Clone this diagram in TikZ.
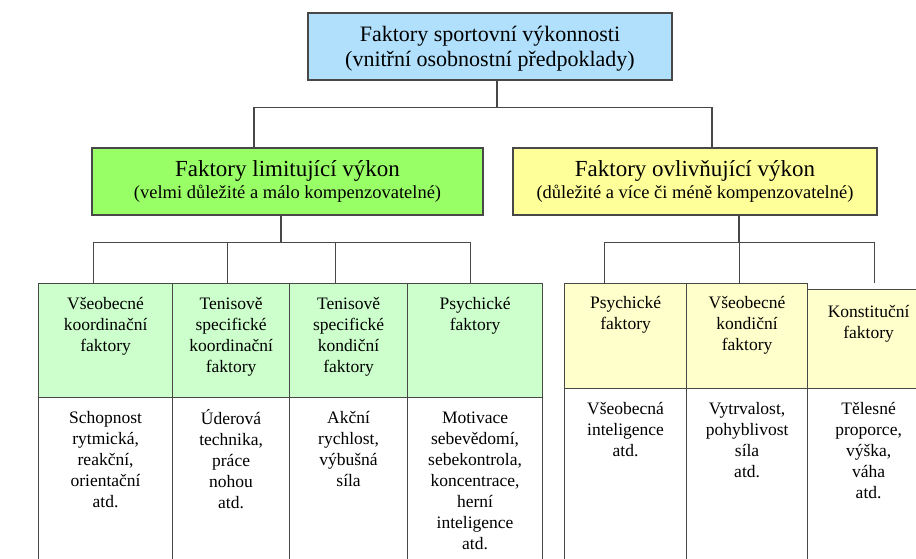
\documentclass[tikz,border=0pt]{standalone}
\usepackage{fontspec}
\setmainfont{Liberation Serif}
\usepackage{xcolor}
\usetikzlibrary{positioning}

\definecolor{topblue}{RGB}{176,224,252}
\definecolor{limgreen}{RGB}{153,255,102}
\definecolor{infyellow}{RGB}{255,255,153}
\definecolor{cellgreen}{RGB}{204,255,204}
\definecolor{cellyellow}{RGB}{255,255,204}
\definecolor{linegray}{RGB}{72,72,72}

\begin{document}
\begin{tikzpicture}[x=1pt, y=-1pt,
titlebox/.style={draw=linegray, line width=1.3pt, align=center, inner sep=0pt},
cellbox/.style={draw=linegray, line width=1.2pt, anchor=north west, inner sep=0pt},
celltext/.style={align=center, inner sep=0pt, font=\fontsize{17.5}{21}\selectfont},
conn/.style={draw=linegray, line width=1.2pt},
]
\useasboundingbox (0,0) rectangle (916,559);
\clip (0,0) rectangle (916,559);

% main boxes
\node[titlebox, fill=topblue, minimum width=364, minimum height=67,
  font=\fontsize{22}{25}\selectfont] (top) at (490,46.5) {};
\node[align=center, inner sep=0pt, font=\fontsize{22}{25}\selectfont] (topt) at (490,48.5)
  {Faktory sportovní výkonnosti\\(vnitřní osobnostní předpoklady)};
\node[titlebox, fill=limgreen, minimum width=391, minimum height=67,
  font=\fontsize{18.5}{22}\selectfont] (lim) at (287.5,181.5)
  {{\fontsize{23}{22}\selectfont Faktory limitující výkon}\\(velmi důležité a málo kompenzovatelné)};
\node[titlebox, fill=infyellow, minimum width=364, minimum height=67,
  font=\fontsize{18.5}{22}\selectfont] (inf) at (695,181.5)
  {{\fontsize{23}{22}\selectfont Faktory ovlivňující výkon}\\(důležité a více či méně kompenzovatelné)};

% green cells
\node[cellbox, fill=cellgreen, minimum width=134, minimum height=114] (g1) at (38,283) {};
\node[cellbox, fill=cellgreen, minimum width=117, minimum height=114] (g2) at (172,283) {};
\node[cellbox, fill=cellgreen, minimum width=118, minimum height=114] (g3) at (289,283) {};
\node[cellbox, fill=cellgreen, minimum width=135, minimum height=114] (g4) at (407,283) {};
\node[cellbox, fill=white, minimum width=134, minimum height=180] (w1) at (38,397) {};
\node[cellbox, fill=white, minimum width=117, minimum height=180] (w2) at (172,397) {};
\node[cellbox, fill=white, minimum width=118, minimum height=180] (w3) at (289,397) {};
\node[cellbox, fill=white, minimum width=135, minimum height=180] (w4) at (407,397) {};

% yellow cells
\node[cellbox, fill=cellyellow, minimum width=122, minimum height=105] (y1) at (564,283) {};
\node[cellbox, fill=cellyellow, minimum width=121, minimum height=105] (y2) at (686,283) {};
\node[cellbox, fill=cellyellow, minimum width=122, minimum height=99] (y3) at (807,289) {};
\node[cellbox, fill=white, minimum width=122, minimum height=190] (v1) at (564,388) {};
\node[cellbox, fill=white, minimum width=121, minimum height=190] (v2) at (686,388) {};
\node[cellbox, fill=white, minimum width=122, minimum height=190] (v3) at (807,388) {};

% connectors
\draw[conn] ([xshift=7]top.south) -- ++(0,27) coordinate (tb);
\draw[conn] ([xshift=-33.5]lim.north) |- (tb) -| ([xshift=17]inf.north);
\draw[conn] ([xshift=-6.5]lim.south) -- ++(0,27) coordinate (gb);
\draw[conn] ([xshift=-12]g1.north) |- (gb) -| ([xshift=-4.5]g4.north);
\draw[conn] ([xshift=-3.5]g2.north) -- ([xshift=-3.5]g2.north |- gb);
\draw[conn] ([xshift=-13]g3.north) -- ([xshift=-13]g3.north |- gb);
\draw[conn] ([xshift=44]inf.south) -- ++(0,27) coordinate (yb);
\draw[conn] ([xshift=-21]y1.north) |- (yb) -| ([xshift=6]y3.north |- y2.north);
\draw[conn] ([xshift=-7.5]y2.north) -- ([xshift=-7.5]y2.north |- yb);

% texts
\node[celltext, below=12pt of g1.north] (g1t) {\strut Všeobecné\\koordinační\\faktory};
\node[celltext, below=12pt of g2.north] (g2t) {\strut Tenisově\\specifické\\koordinační\\faktory};
\node[celltext, below=12pt of g3.north] (g3t) {\strut Tenisově\\specifické\\kondiční\\faktory};
\node[celltext, below=12pt of g4.north] (g4t) {\strut Psychické\\faktory};
\node[celltext, below=12pt of w1.north] (w1t) {\strut Schopnost\\rytmická,\\reakční,\\orientační\\atd.};
\node[celltext, below=12pt of w2.north] (w2t) {\strut Úderová\\technika,\\práce\\nohou\\atd.};
\node[celltext, below=12pt of w3.north] (w3t) {\strut Akční\\rychlost,\\výbušná\\síla};
\node[celltext, below=12pt of w4.north] (w4t) {\strut Motivace\\sebevědomí,\\sebekontrola,\\koncentrace,\\herní\\inteligence\\atd.};
\node[celltext, below=11pt of y1.north] (y1t) {\strut Psychické\\faktory};
\node[celltext, below=11pt of y2.north] (y2t) {\strut Všeobecné\\kondiční\\faktory};
\node[celltext, below=14pt of y3.north] (y3t) {\strut Konstituční\\faktory};
\node[celltext, below=12pt of v1.north] (v1t) {\strut Všeobecná\\inteligence\\atd.};
\node[celltext, below=12pt of v2.north] (v2t) {\strut Vytrvalost,\\pohyblivost\\síla\\atd.};
\node[celltext, below=12pt of v3.north] (v3t) {\strut Tělesné\\proporce,\\výška,\\váha\\atd.};

%\draw[red] (0,0) rectangle (916,559);
\end{tikzpicture}
\end{document}
